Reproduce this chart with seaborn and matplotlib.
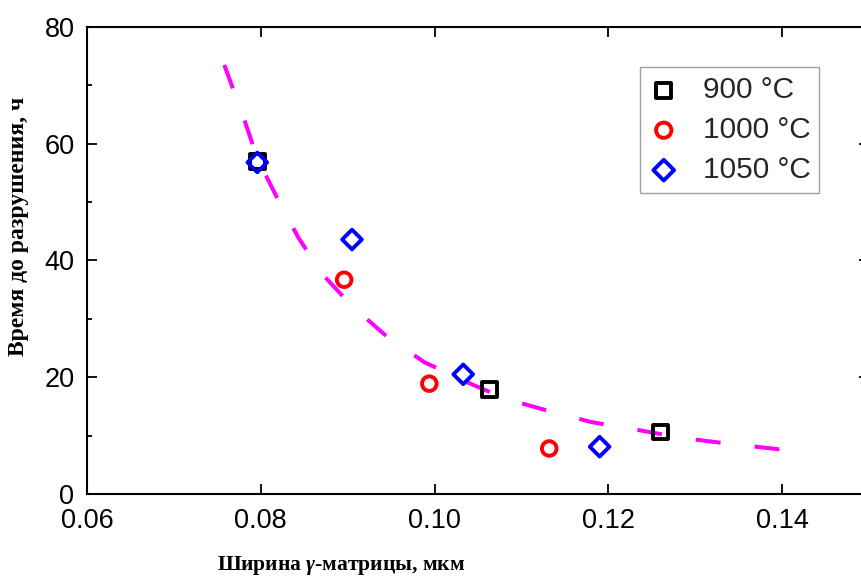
import matplotlib
matplotlib.use("Agg")
import matplotlib.pyplot as plt
import seaborn as sns
from matplotlib.ticker import MultipleLocator, FormatStrFormatter

# ---- data ----
x900 = [0.0796, 0.1063, 0.1260]
y900 = [57.0, 17.9, 10.6]
x1000 = [0.0896, 0.0994, 0.1132]
y1000 = [36.7, 18.9, 7.8]
x1050 = [0.0796, 0.0905, 0.1033, 0.1190]
y1050 = [56.8, 43.6, 20.5, 8.1]
labels = ["900 °C", "1000 °C", "1050 °C"]

# fitted curve, points
curve_x = [0.0758, 0.0780, 0.0796, 0.0819, 0.0843, 0.0870, 0.0905, 0.0945,
           0.0988, 0.1035, 0.1082, 0.1132, 0.1181, 0.1233, 0.1285, 0.1334, 0.1400]
curve_y = [73.5, 64.6, 57.5, 50.7, 44.0, 37.8, 32.2, 27.0,
           22.6, 19.3, 16.3, 14.2, 12.3, 11.0, 9.6, 8.7, 7.6]

sns.set_theme(style="white")
plt.rcParams["font.family"] = ["Liberation Sans", "DejaVu Sans"]
plt.rcParams["mathtext.fontset"] = "custom"
plt.rcParams["mathtext.it"] = "Liberation Serif:italic:bold"
plt.rcParams["mathtext.rm"] = "Liberation Serif:bold"

fig = plt.figure(figsize=(8.62, 5.79), dpi=100)
ax = fig.add_axes([0.1009, 0.1468, 0.9072, 0.8066])

sns.lineplot(x=curve_x, y=curve_y, ax=ax, color="#ff00ff", linewidth=2.9,
             linestyle=(0, (6.2, 8.5)), sort=False, legend=False, zorder=1)

mk = dict(s=110, facecolor="none", linewidth=2.8, zorder=3)
sns.scatterplot(x=x900, y=y900, ax=ax, marker="s", edgecolor="black", label=labels[0], **mk)
sns.scatterplot(x=x1000, y=y1000, ax=ax, marker="o", edgecolor="#ff0000", label=labels[1], **mk)
sns.scatterplot(x=x1050, y=y1050, ax=ax, marker="D", edgecolor="#0000ff", label=labels[2],
                **{**mk, "s": 100})

ax.set_xlim(0.06, 0.15)
ax.set_ylim(0, 80)
ax.xaxis.set_major_locator(MultipleLocator(0.02))
ax.yaxis.set_major_locator(MultipleLocator(20))
ax.yaxis.set_minor_locator(MultipleLocator(10))
ax.xaxis.set_major_formatter(FormatStrFormatter("%.2f"))

for s in ax.spines.values():
    s.set_linewidth(1.5)
    s.set_color("black")
    s.set_visible(True)

ax.tick_params(which="both", direction="in", top=True, right=True, bottom=True, left=True,
               color="black", width=1.3)
ax.tick_params(which="major", length=7, labelsize=19.5, labelcolor="black")
ax.tick_params(which="minor", length=3.8)
ax.tick_params(axis="x", which="major", pad=10)
ax.tick_params(axis="y", which="major", pad=9)

ax.set_xlabel("Ширина $γ$-матрицы, мкм", fontsize=15.5, fontweight="bold",
              family=["Liberation Serif", "DejaVu Serif"], color="black")
ax.set_ylabel("Время до разрушения, ч", fontsize=17, fontweight="bold",
              family=["Liberation Serif", "DejaVu Serif"], color="black")
ax.xaxis.set_label_coords(0.325, -0.128)
ax.yaxis.set_label_coords(-0.074, 0.574)

leg = ax.legend(loc="upper left", bbox_to_anchor=(0.707, 0.914), borderaxespad=0,
                fontsize=21.5, frameon=True, fancybox=False, handlelength=1.0,
                handletextpad=0.8, labelspacing=0.4, borderpad=0.3,
                markerscale=1.05)
leg.get_frame().set_edgecolor("#888888")
leg.get_frame().set_linewidth(1.0)

fig.savefig("out.png", dpi=100)
